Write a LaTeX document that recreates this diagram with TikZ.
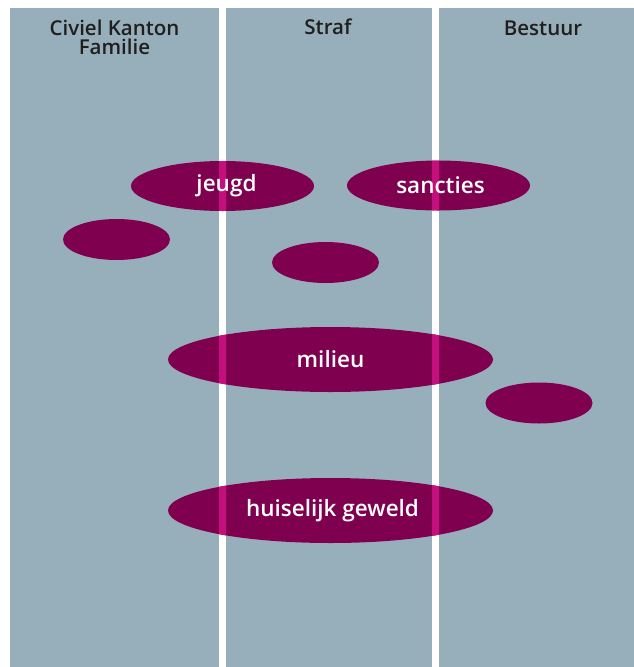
\documentclass[tikz,border=0pt]{standalone}
\usepackage{fontspec}
\setmainfont{Open Sans}[BoldFont={Open Sans Semibold}]
\usetikzlibrary{shapes.geometric}
\definecolor{kolom}{RGB}{151,175,186}
\definecolor{paars}{RGB}{128,0,80}
\definecolor{roze}{RGB}{196,16,124}
\def\T{8}
\def\B{667}

\begin{document}
\begin{tikzpicture}[x=1pt,y=-1pt,
    blob/.style={ellipse, fill=paars, inner sep=0pt},
    klein/.style={blob, minimum width=107pt, minimum height=41pt},
    middel/.style={blob, minimum width=183pt, minimum height=50pt},
    groot/.style={blob, minimum width=325pt, minimum height=65pt},
    label/.style={text=white, font=\bfseries\fontsize{22.5}{26}\selectfont},
    kop/.style={text=black!88, font=\bfseries\fontsize{20.5}{22}\selectfont, align=center, inner sep=0pt}]
    \useasboundingbox (0,0) rectangle (634,667);
    % kolommen
    \fill[kolom] (10,\T) rectangle (219,\B);
    \fill[kolom] (226,\T) rectangle (432,\B);
    \fill[kolom] (439,\T) rectangle (634,\B);
    \node[kop, anchor=base] (civiel) at (114.5,35.5) {Civiel Kanton};
    \node[kop, anchor=base] (familie) at (114.5,54) {Familie};
    \node[kop, anchor=base] (straf) at (328,34) {Straf};
    \node[kop, anchor=base] (bestuur) at (543,35.5) {Bestuur};

    % ellipsen
    \node[middel] (jeugd) at (222.5,186) {};
    \node[middel] (sancties) at (438.5,185.5) {};
    \node[klein] (links) at (116.5,239.5) {};
    \node[klein] (midden) at (325.5,262.5) {};
    \node[groot] (milieu) at (330.5,359.5) {};
    \node[klein] (rechts) at (539,403) {};
    \node[groot] (geweld) at (330.5,510.5) {};

    % stukjes over de witte stroken
    \foreach \a/\b in {219/226, 432/439} {
        \begin{scope}
            \clip (\a,\T) rectangle (\b,\B);
            \fill[roze] (jeugd.center) ellipse [x radius=91.5pt, y radius=25pt];
            \fill[roze] (sancties.center) ellipse [x radius=91.5pt, y radius=25pt];
            \fill[roze] (milieu.center) ellipse [x radius=162.5pt, y radius=32.5pt];
            \fill[roze] (geweld.center) ellipse [x radius=162.5pt, y radius=32.5pt];
        \end{scope}
    }

    \node[label] at ([xshift=4pt]jeugd) {jeugd};
    \node[label] at ([xshift=2pt]sancties) {sancties};
    \node[label] at (milieu) {milieu};
    \node[label] at ([xshift=2pt]geweld) {huiselijk geweld};
\end{tikzpicture}
\end{document}
